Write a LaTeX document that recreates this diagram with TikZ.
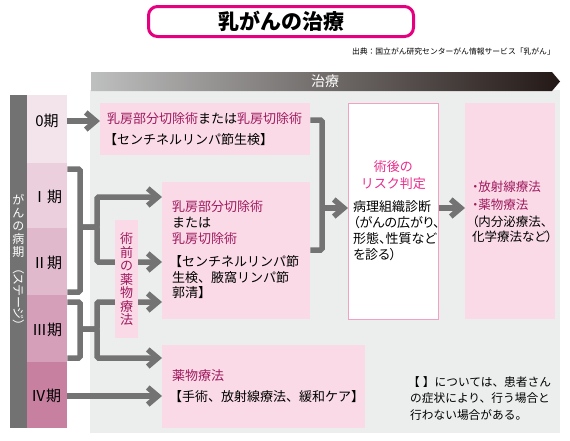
\documentclass[tikz,border=0pt]{standalone}
\usepackage{fontspec}
\setmainfont{Noto Sans CJK JP}
\usetikzlibrary{arrows.meta}

\definecolor{titlemag}{RGB}{228,0,127}
\definecolor{boxpink}{RGB}{249,218,230}
\definecolor{deepmag}{RGB}{160,25,95}
\definecolor{lightmag}{RGB}{232,45,140}
\definecolor{linegray}{RGB}{115,115,115}
\definecolor{bggray}{RGB}{236,238,238}
\definecolor{colgray}{RGB}{114,114,114}
\definecolor{wborder}{RGB}{242,160,196}
\definecolor{barlight}{RGB}{190,191,191}
\definecolor{bardark}{RGB}{35,24,21}
\definecolor{st0}{RGB}{243,228,236}
\definecolor{st1}{RGB}{236,207,221}
\definecolor{st2}{RGB}{225,185,204}
\definecolor{st3}{RGB}{213,158,185}
\definecolor{st4}{RGB}{199,128,160}

\begin{document}
\begin{tikzpicture}[x=1pt,y=-1pt]
      \tikzset{
        conn/.style={draw=linegray,line width=5.5pt,rounded corners=1.5pt},
        arr/.style={conn,-{Straight Barb[length=10pt,width=17pt]}},
        pinkbox/.style={fill=boxpink,inner sep=0pt,anchor=north west},
        stage/.style={inner sep=0pt,minimum width=40pt,anchor=north west},
        stagelbl/.style={inner sep=0pt,font=\fontsize{15}{15}\selectfont},
        txt/.style={inner sep=0pt,anchor=west,font=\fontsize{13}{16}\selectfont},
        block/.style={inner sep=0pt,anchor=north west,align=left},
      }
      \useasboundingbox (0,0) rectangle (570,440);

      % title and source
      \node[draw=titlemag,line width=3pt,rounded corners=9pt,minimum width=265pt,minimum height=30pt,font=\fontsize{21}{21}\selectfont\bfseries] (title) at (281,21.5) {乳がんの治療};
      \node[inner sep=0pt,anchor=east,font=\fontsize{7.8}{8}\selectfont] (src) at (555,52) {出典：国立がん研究センターがん情報サービス「乳がん」};

      % background and bar
      \fill[bggray] (90,90) rectangle (560,433);
      \shade[left color=barlight,right color=bardark] (91,72) -- (552,72) -- (560,81.5) -- (552,91) -- (91,91) -- cycle;
      \node[text=white,inner sep=0pt,font=\fontsize{14}{14}\selectfont] (bar) at (325,81.5) {治療};

      % stages
      \node[fill=colgray,inner sep=0pt,anchor=north west,minimum width=17pt,minimum height=333pt] (col) at (10,95) {};
      \node[stage,fill=st0,minimum height=68pt] (s0) at (27,95) {};
      \node[stage,fill=st1,minimum height=65pt] (s1) at (27,163) {};
      \node[stage,fill=st2,minimum height=67pt] (s2) at (27,228) {};
      \node[stage,fill=st3,minimum height=67pt] (s3) at (27,295) {};
      \node[stage,fill=st4,minimum height=66pt] (s4) at (27,362) {};
      \node[stagelbl] (l0) at (47,121) {0期};
      \node[stagelbl] (l1) at (47,197) {Ⅰ期};
      \node[stagelbl] (l2) at (47,263) {Ⅱ期};
      \node[stagelbl] (l3) at (47,330) {Ⅲ期};
      \node[stagelbl] (l4) at (46,396) {Ⅳ期};
      \node[inner sep=0pt,anchor=north,align=center,text=white,font=\fontsize{12}{13}\selectfont] (colt) at (18.5,194) {が\\ん\\の\\病\\期};
      \node[inner sep=0pt,rotate=-90,text=white,font=\fontsize{12}{13}\selectfont\addfontfeature{RawFeature=+palt}] (colt2) at (18.5,297) {（ステージ）};

      % treatment boxes
      \node[pinkbox,minimum width=210pt,minimum height=52pt] (box1) at (100,103) {};
      \node[pinkbox,minimum width=148pt,minimum height=137pt] (box2) at (162,182) {};
      \node[pinkbox,minimum width=203pt,minimum height=83pt] (box3) at (162,345) {};
      \node[draw=wborder,line width=0.8pt,fill=white,inner sep=0pt,anchor=north west,minimum width=90pt,minimum height=216pt] (risk) at (348,103) {};
      \node[pinkbox,minimum width=90pt,minimum height=216pt] (box4) at (465,103) {};

      % connectors
      \coordinate (k12a) at (80,169);
      \coordinate (k12b) at (80,292);
      \coordinate (k12m) at (80,227);
      \coordinate (k12u) at (97,197);
      \coordinate (k12d) at (97,262);
      \coordinate (k3a) at (80,302);
      \coordinate (k3b) at (80,358);
      \coordinate (k3m) at (80,329);
      \coordinate (k3u) at (97,302);
      \coordinate (k3d) at (97,358);
      \coordinate (kr1) at (322,120);
      \coordinate (kr2) at (322,250);
      \coordinate (krm) at (322,208);

      \draw[arr] (s0.east |- l0) -- (box1.west |- l0);
      \draw[conn] (s1.east |- k12a) -- (k12a) -- (k12b) -- (s2.east |- k12b);
      \draw[arr] (k12m) -| (k12u) -- (box2.west |- k12u);
      \draw[arr] (k12m) -| (k12d) -- (box2.west |- k12d);
      \draw[conn] (s3.east |- k3a) -- (k3a) -- (k3b) -- (s3.east |- k3b);
      \draw[arr] (k3m) -| (k3u) -- (box2.west |- k3u);
      \draw[arr] (k3m) -| (k3d) -- (box3.west |- k3d);
      \draw[arr] (s4.east |- l4) -- (box3.west |- l4);
      \draw[conn] (box1.east |- kr1) -- (kr1) -- (kr2) -- (box2.east |- kr2);
      \draw[arr] (krm) -- (risk.west |- krm);
      \draw[arr] (risk.east |- krm) -- (box4.west |- krm);

      % pre-operative drug therapy
      \node[pinkbox,minimum width=23pt,minimum height=118pt] (pre) at (115,220) {};
      \node[inner sep=0pt,align=center,text=deepmag,font=\fontsize{13}{13.5}\selectfont] (pret) at (pre.center) {術\\前\\の\\薬\\物\\療\\法};

      % texts
      \node[txt] (b1t) at (107,119) {{\color{deepmag}乳房部分切除術}または{\color{deepmag}乳房切除術}};
      \node[txt] (b1t2) at (104,140) {【センチネルリンパ節生検】};
      \node[block,font=\fontsize{13}{16}\selectfont] (b2t) at (172,200.5) {{\color{deepmag}乳房部分切除術}\\または\\{\color{deepmag}乳房切除術}};
      \node[block,font=\fontsize{13}{15.5}\selectfont] (b2t2) at (169,255.5) {【センチネルリンパ節\\\hspace*{3pt}生検、腋窩リンパ節\\\hspace*{3pt}郭清】};
      \node[txt,text=deepmag] (b3t) at (172,376) {薬物療法};
      \node[txt] (b3t2) at (169,397) {【手術、放射線療法、緩和ケア】};
      \node[inner sep=0pt,anchor=north,align=center,text=lightmag,font=\fontsize{13}{17}\selectfont] (riskt) at (risk.north |- 0,160.5) {術後の\\リスク判定};
      \node[block,font=\fontsize{13}{16}\selectfont\addfontfeature{RawFeature=+palt}] (riskt2) at (353,200.5) {病理組織診断\\（がんの広がり、\\形態、性質など\\を診る）};
      \node[block,text=deepmag,font=\fontsize{12.5}{18}\selectfont\addfontfeature{RawFeature=+palt}] (b4t) at (472,180.5) {・放射線療法\\・薬物療法};
      \node[block,font=\fontsize{12.5}{15.5}\selectfont\addfontfeature{RawFeature=+palt}] (b4t2) at (472,215.5) {（内分泌療法、\\化学療法など）};
      \node[block,font=\fontsize{11.7}{16.5}\selectfont] (note) at (408,376) {【\hspace{3pt}】については、患者さん\\\hspace*{2pt}の症状により、行う場合と\\\hspace*{2pt}行わない場合がある。};
    \end{tikzpicture}
\end{document}
